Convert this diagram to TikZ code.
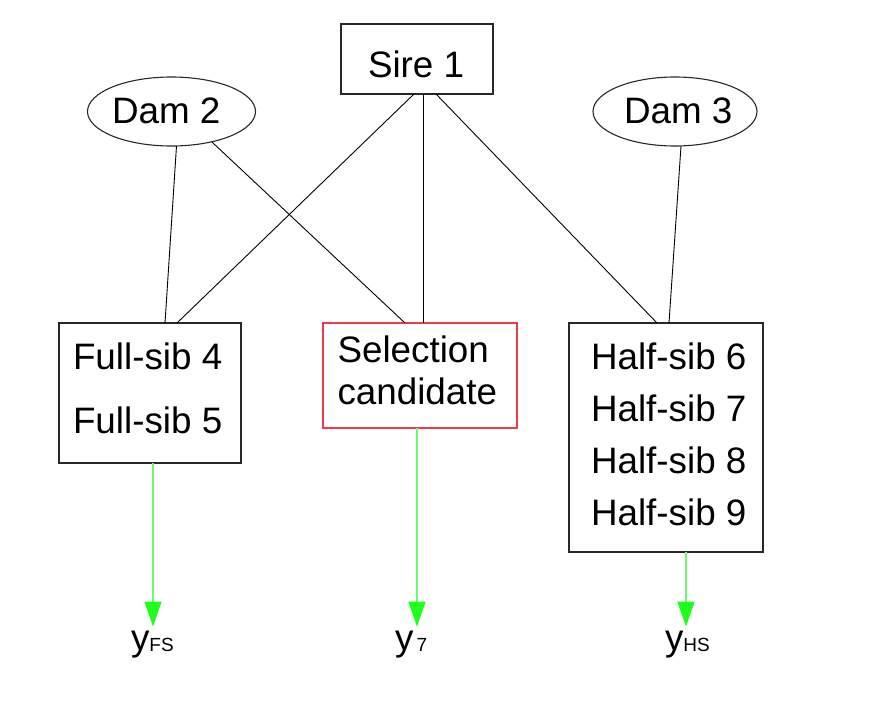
\documentclass[tikz,border=0pt]{standalone}
\usepackage{fontspec}
\setmainfont{Liberation Sans}
\usetikzlibrary{arrows.meta,shapes.geometric}
\definecolor{boxline}{RGB}{40,40,40}
\definecolor{candred}{RGB}{240,60,70}
\definecolor{obsgreen}{RGB}{30,255,30}
\definecolor{feedline}{RGB}{110,250,110}
\newcommand\obssub[1]{{\fontsize{19}{19}\selectfont\raisebox{-1pt}{#1}}}
\begin{document}
\begin{tikzpicture}[x=1pt,y=-1pt,
  box/.style={draw=boxline,line width=1.1pt,rectangle,inner sep=0pt,outer sep=0pt},
  parent/.style={draw=boxline,line width=1.1pt,ellipse,inner sep=0pt,outer sep=0pt},
  lbl/.style={inner sep=0pt,outer sep=0pt,anchor=base west,font=\fontsize{36.8}{37}\selectfont},
  link/.style={draw=black,line width=0.9pt},
  feed/.style={draw=feedline,line width=1.6pt,shorten >=4pt,-{Triangle[width=17pt,length=25pt,color=obsgreen]}},
  ]
\fill[white] (0,0) rectangle (880,704);
\useasboundingbox (0,0) rectangle (880,704);

% parents
\node[box,minimum width=152pt,minimum height=70pt] (sire) at (417,59) {};
\node[lbl] (sireText) at (368,77) {Sire 1};
\node[parent,minimum width=168pt,minimum height=69pt] (dam2) at (171.5,111.5) {};
\node[lbl] (dam2Text) at (112,123) {Dam 2};
\node[parent,minimum width=164pt,minimum height=69pt] (dam3) at (675,111.5) {};
\node[lbl] (dam3Text) at (624,123) {Dam 3};

% offspring groups
\node[box,minimum width=182pt,minimum height=140pt] (fs) at (150,393) {};
\node[lbl] (fs4) at (73,369) {Full-sib 4};
\node[lbl] (fs5) at (73,433) {Full-sib 5};

\node[box,draw=candred,minimum width=194pt,minimum height=105pt] (sel) at (420,375.5) {};
\node[lbl] (selA) at (337.5,362) {Selection};
\node[lbl] (selB) at (337.5,404) {candidate};

\node[box,minimum width=194pt,minimum height=229pt] (hs) at (666,437.5) {};
\node[lbl] (hs6) at (591,369) {Half-sib 6};
\node[lbl] (hs7) at (591,421) {Half-sib 7};
\node[lbl] (hs8) at (591,473) {Half-sib 8};
\node[lbl] (hs9) at (591,525) {Half-sib 9};

% observations
\node[lbl] (yfs) at (131,650) {y\obssub{FS}};
\node[lbl] (y7) at (395,650) {y\obssub{\,7}};
\node[lbl] (yhs) at (665,650) {y\obssub{HS}};

% pedigree links
\draw[link] ([xshift=5pt]dam2.south) -- ([xshift=15pt]fs.north);
\draw[link] (dam2.-37) -- ([xshift=-15pt]sel.north);
\draw[link] ([xshift=-3pt]sire.south) -- ([xshift=27pt]fs.north);
\draw[link] ([xshift=6pt]sire.south) -- ([xshift=3pt]sel.north);
\draw[link] ([xshift=19pt]sire.south) -- ([xshift=-9pt]hs.north);
\draw[link] ([xshift=6pt]dam3.south) -- ([xshift=3pt]hs.north);

% records feeding the evaluation
\coordinate (fsOut) at ([xshift=3pt]fs.south);
\coordinate (selOut) at ([xshift=-3pt]sel.south);
\coordinate (hsOut) at ([xshift=20pt]hs.south);
\draw[feed] (fsOut) -- (fsOut |- yfs.north);
\draw[feed] (selOut) -- (selOut |- y7.north);
\draw[feed] (hsOut) -- (hsOut |- yhs.north);
\end{tikzpicture}
\end{document}
